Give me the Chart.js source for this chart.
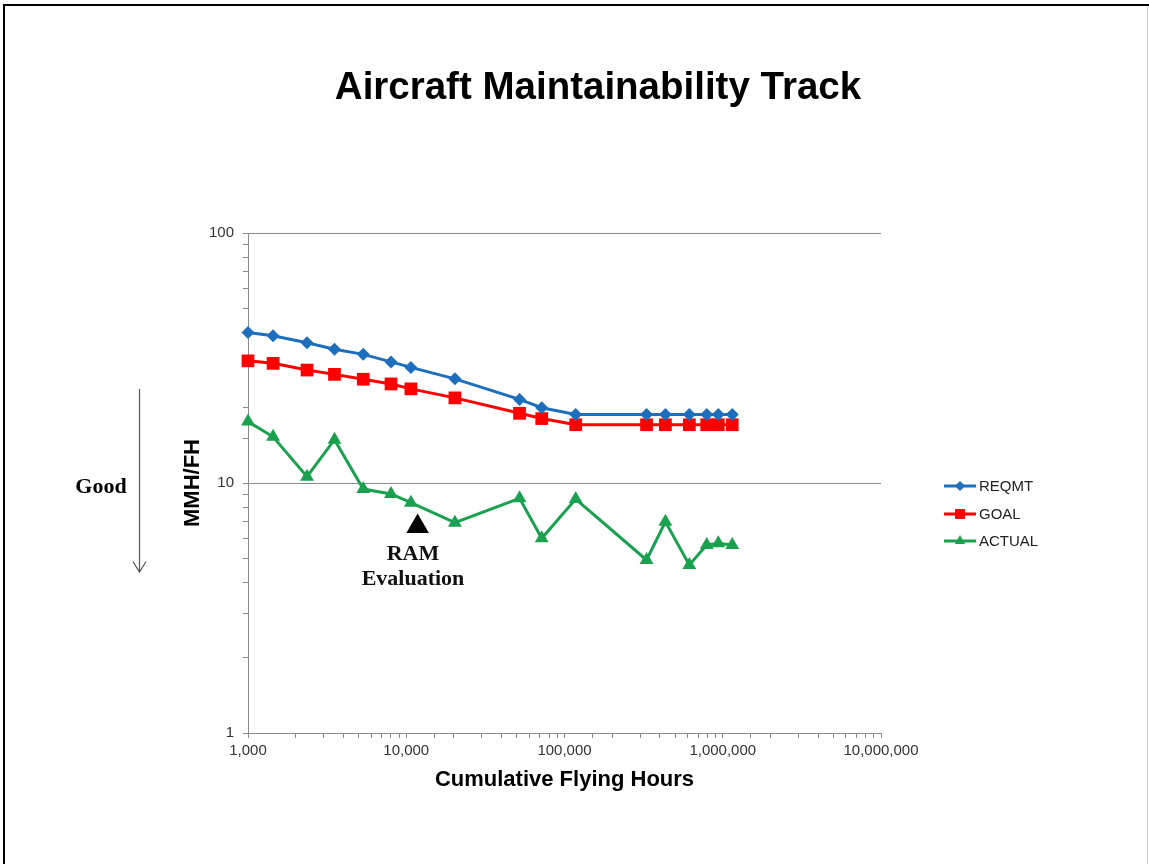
<!DOCTYPE html>
<html>
<head>
<meta charset="utf-8">
<script src="https://cdn.jsdelivr.net/npm/chart.js@4/dist/chart.umd.min.js"></script>
<style>
  html, body { margin: 0; padding: 0; background: #fff; }
  #wrap { width: 1149px; height: 864px; position: relative; }
</style>
</head>
<body>
<div id="wrap"><canvas id="c" width="1149" height="864"></canvas></div>
<script>
// ---- data ----
const chartTitle = 'Aircraft Maintainability Track';
const xTitle = 'Cumulative Flying Hours';
const yTitle = 'MMH/FH';
const seriesNames = ['REQMT', 'GOAL', 'ACTUAL'];
const flyingHours = [1000, 1440, 2360, 3520, 5350, 8010, 10700, 20300, 52000, 71800, 117700, 330000, 434000, 615000, 792000, 937000, 1148000];
const reqmt  = [40.0, 38.8, 36.4, 34.3, 32.7, 30.5, 29.0, 26.1, 21.6, 20.0, 18.8, 18.8, 18.8, 18.8, 18.8, 18.8, 18.8];
const goal   = [30.8, 30.1, 28.3, 27.2, 26.0, 24.9, 23.8, 21.9, 19.0, 18.1, 17.1, 17.1, 17.1, 17.1, 17.1, 17.1, 17.1];
const actual = [17.6, 15.3, 10.6, 14.9, 9.46, 9.04, 8.34, 6.94, 8.68, 6.01, 8.63, 4.92, 7.00, 4.70, 5.65, 5.74, 5.65];
const ramEvalX = [11800];
const ramEvalY = [6.7];
const xTickValues = [1000, 10000, 100000, 1000000, 10000000];
const yTickValues = [1, 10, 100];

// ---- style ----
const SANS = '"Liberation Sans", Arial, sans-serif';
const SERIF = '"Liberation Serif", "Times New Roman", serif';
const BLUE = '#1E6EBE', RED = '#FF0000', GREEN = '#1AA150';
const AXIS = '#8a8a8a';

const pts = (ys) => flyingHours.map((x, i) => ({ x: x, y: ys[i] }));
const isMajor = (v) => { const l = Math.log10(v); return Math.abs(l - Math.round(l)) < 1e-6; };

const seriesStyle = [
  { color: BLUE, style: 'rectRot', r: 6.5, lr: 5 },
  { color: RED, style: 'rect', r: 9, lr: 7 },
  { color: GREEN, style: 'triangle', r: 8, lr: 6 }
];
const seriesData = [reqmt, goal, actual];

const datasets = seriesNames.map((n, i) => ({
  label: n,
  data: pts(seriesData[i]),
  borderColor: seriesStyle[i].color,
  backgroundColor: seriesStyle[i].color,
  borderWidth: 3,
  pointStyle: seriesStyle[i].style,
  pointRadius: seriesStyle[i].r,
  pointBorderWidth: 0,
  pointHoverRadius: seriesStyle[i].r,
  tension: 0,
  fill: false,
  clip: false
}));
datasets.push({
  label: 'RAM Evaluation',
  data: ramEvalX.map((x, i) => ({ x: x, y: ramEvalY[i] })),
  showLine: false,
  borderColor: '#000',
  backgroundColor: '#000',
  pointStyle: 'triangle',
  pointRadius: 13,
  pointBorderWidth: 0,
  clip: false
});

const deco = {
  id: 'deco',
  afterDraw(chart) {
    const c = chart.ctx;
    c.save();
    // slide border
    c.fillStyle = '#000';
    c.fillRect(3, 4, 1146, 2);
    c.fillRect(3, 4, 2, 860);
    c.fillStyle = '#d0d0d0';
    c.fillRect(1147, 6, 1, 858);
    // title
    c.fillStyle = '#000';
    c.textAlign = 'center';
    c.textBaseline = 'middle';
    c.font = 'bold 38.5px ' + SANS;
    c.fillText(chartTitle, 598, 88);
    // Good + arrow
    c.font = 'bold 22px ' + SERIF;
    c.fillText('Good', 101, 487);
    c.strokeStyle = '#555';
    c.lineWidth = 1.2;
    c.beginPath();
    c.moveTo(139.5, 389); c.lineTo(139.5, 572);
    c.moveTo(133, 561.5); c.lineTo(139.5, 572); c.lineTo(146, 561.5);
    c.stroke();
    // RAM Evaluation text
    c.fillStyle = '#111';
    c.fillText('RAM', 413, 554);
    c.fillText('Evaluation', 413, 579);
    // legend
    const ly = [486, 514, 541];
    c.font = '15px ' + SANS;
    c.textAlign = 'left';
    seriesNames.forEach((n, i) => {
      const s = seriesStyle[i];
      c.strokeStyle = s.color;
      c.lineWidth = 3;
      c.beginPath();
      c.moveTo(944, ly[i]); c.lineTo(976, ly[i]);
      c.stroke();
      c.fillStyle = s.color;
      Chart.helpers.drawPoint(c, { pointStyle: s.style, radius: s.lr, borderWidth: 0, rotation: 0 }, 960, ly[i]);
      c.fillStyle = '#222';
      c.fillText(n, 979, ly[i] + 1);
    });
    c.restore();
  }
};

new Chart(document.getElementById('c'), {
  type: 'line',
  data: { datasets: datasets },
  options: {
    responsive: false,
    animation: false,
    events: [],
    layout: { padding: { left: 180, top: 233, right: 268, bottom: 0 } },
    plugins: { legend: { display: false }, title: { display: false }, tooltip: { enabled: false } },
    scales: {
      x: {
        type: 'logarithmic',
        min: 1000, max: 10000000,
        afterFit(s) { s.height = 131; },
        ticks: {
          autoSkip: false, maxRotation: 0, minRotation: 0,
          color: '#333', padding: 4,
          font: { family: SANS, size: 15 },
          callback(v) { return xTickValues.includes(v) ? Number(v).toLocaleString('en-US') : ''; }
        },
        grid: { drawOnChartArea: false, drawTicks: true, tickLength: 5, tickColor: AXIS, color: AXIS },
        border: { color: AXIS, width: 1 },
        title: { display: true, text: xTitle, color: '#000', font: { family: SANS, size: 22, weight: 'bold' }, padding: { top: 0, bottom: 71 } }
      },
      y: {
        type: 'logarithmic',
        min: 1, max: 100,
        afterFit(s) { s.width = 68; },
        ticks: {
          autoSkip: false, color: '#333', padding: 9,
          font: { family: SANS, size: 15 },
          callback(v) { return yTickValues.includes(v) ? String(v) : ''; }
        },
        grid: {
          drawTicks: true, tickLength: 5, tickColor: AXIS,
          color(ctx) { return ctx.tick && isMajor(ctx.tick.value) ? AXIS : 'rgba(0,0,0,0)'; }
        },
        border: { color: AXIS, width: 1 },
        title: { display: true, text: yTitle, color: '#000', font: { family: SANS, size: 22, weight: 'bold' }, padding: { top: 0, bottom: 0 } }
      }
    }
  },
  plugins: [deco]
});
</script>
</body>
</html>
